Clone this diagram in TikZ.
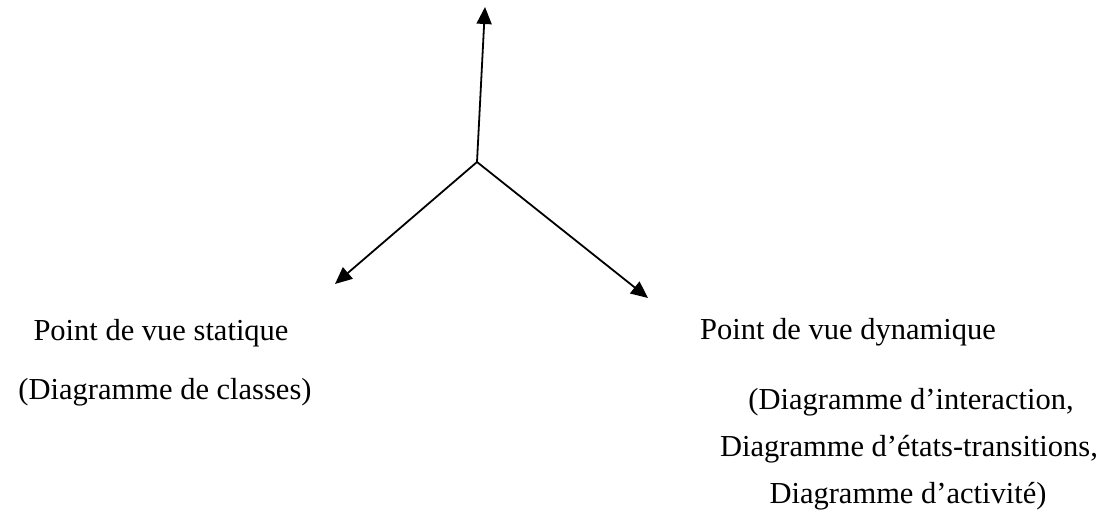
\documentclass[tikz,border=0pt]{standalone}
\usepackage{fontspec}
\setmainfont{Liberation Serif}
\usetikzlibrary{arrows.meta}
\begin{document}
\begin{tikzpicture}[x=1pt,y=-1pt,
  view/.style={line width=1.8pt,-{Triangle[length=17pt,width=15pt]}},
  lbl/.style={anchor=base,inner sep=0pt,font=\fontsize{30.5}{37}\selectfont}]
\useasboundingbox (0,0) rectangle (1104,526);
% junction and free ends of the three views
\coordinate (o) at (477,162);
\coordinate (up) at (485,7);
\coordinate (sw) at (335,284);
\coordinate (se) at (648,298);
\draw[view] (o) -- (up);
\draw[view] (o) -- (sw);
\draw[view] (o) -- (se);
% static view
\node[lbl] (stat) at (161,341) {Point de vue statique};
\node[lbl] (statd) at (165,400) {(Diagramme de classes)};
% dynamic view
\node[lbl] (dyn) at (848,340) {Point de vue dynamique};
\node[lbl] (dyn1) at (911,410) {(Diagramme d’interaction,};
\node[lbl] (dyn2) at (909,457) {Diagramme d’états-transitions,};
\node[lbl] (dyn3) at (908,504) {Diagramme d’activité)};
\end{tikzpicture}
\end{document}
